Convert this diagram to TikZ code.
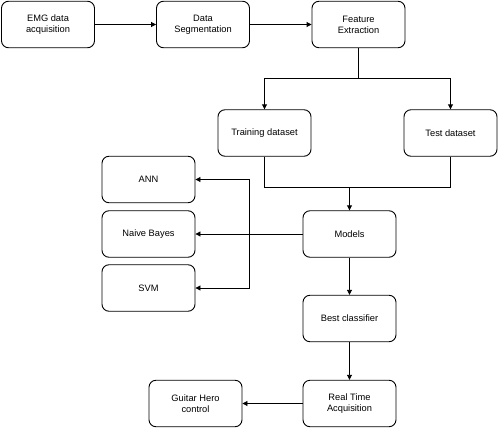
\documentclass[tikz,border=0pt]{standalone}
\usepackage{fontspec}
\setmainfont{Liberation Sans}
\usetikzlibrary{arrows.meta}
\begin{document}
\begin{tikzpicture}[x=1pt,y=-1pt,
  box/.style={draw, line width=0.9pt, rounded corners=7pt, minimum width=93pt, minimum height=46.5pt, align=center, inner sep=1pt, font=\fontsize{9.3}{11.3}\selectfont},
  arr/.style={draw, line width=0.9pt, -{Triangle[length=5pt,width=5pt]}},
  ln/.style={draw, line width=0.9pt}]
\useasboundingbox (0,0) rectangle (499,429);
\node[box] (emg) at (48,24.5) {EMG data\\acquisition};
\node[box] (seg) at (203,24.5) {Data\\Segmentation};
\node[box] (feat) at (358.5,24.5) {Feature\\Extraction};
\node[box] (train) at (264.5,133) {Training dataset};
\node[box] (test) at (450.5,133) {Test dataset};
\node[box] (ann) at (148.5,179.5) {ANN};
\node[box] (nb) at (148.5,234) {Naive Bayes};
\node[box] (svm) at (148.5,288) {SVM};
\node[box] (models) at (349.5,234) {Models};
\node[box] (best) at (349.5,318.5) {Best classifier};
\node[box] (rt) at (349.5,403.5) {Real Time\\Acquisition};
\node[box] (gh) at (195.5,403.5) {Guitar Hero\\control};
\coordinate (fsplit) at (358.5,78);
\coordinate (mjoin) at (349.5,187);
\coordinate (mv) at (249,234);
\draw[arr] (emg) -- (seg);
\draw[arr] (seg) -- (feat);
\draw[ln] (feat.south) -- (fsplit);
\draw[arr] (fsplit) -| (train.north);
\draw[arr] (fsplit) -| (test.north);
\draw[ln] (train.south) |- (mjoin);
\draw[ln] (test.south) |- (mjoin);
\draw[arr] (mjoin) -- (models.north);
\draw[arr] (models.west) -- (nb.east);
\draw[arr] (mv) |- (ann.east);
\draw[arr] (mv) |- (svm.east);
\draw[arr] (models) -- (best);
\draw[arr] (best) -- (rt);
\draw[arr] (rt) -- (gh);
\end{tikzpicture}
\end{document}
